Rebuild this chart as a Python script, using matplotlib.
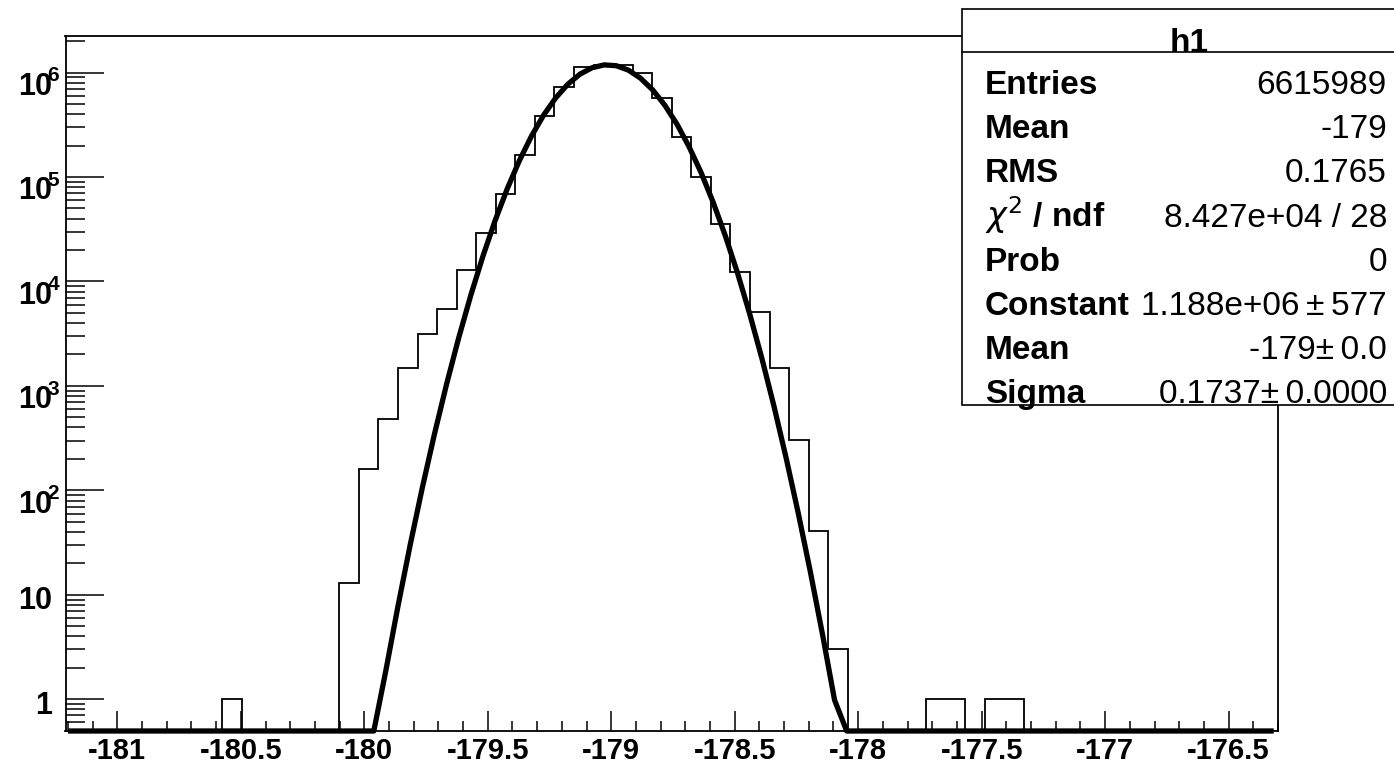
import numpy as np
import matplotlib
matplotlib.use("Agg")
import matplotlib.pyplot as plt
from matplotlib.patches import Rectangle
from matplotlib.ticker import MultipleLocator, LogLocator, NullFormatter, FuncFormatter

plt.rcParams['font.family'] = ['Liberation Sans', 'DejaVu Sans']
plt.rcParams['axes.unicode_minus'] = False

# histogram h1, 62 equal bins
x_lo, x_hi = -181.21, -176.30
counts = [0, 0, 0, 0, 0, 0, 0, 0, 1, 0,
          0, 0, 0, 0, 13, 162, 481, 1500, 3113, 5404,
          12850, 28900, 68300, 162500, 383700, 732000, 1139000, 1190000, 1170000, 990000,
          565000, 240000, 99300, 35500, 12300, 5060, 1470, 303, 41, 3,
          0, 0, 0, 0, 1, 1, 0, 1, 1, 0,
          0, 0, 0, 0, 0, 0, 0, 0, 0, 0,
          0, 0]

# gaus fit (drawn like a TF1 with 100 sample points)
fit_const = 1.188e6
fit_mean = -179.015
fit_sigma = 0.1737
fit_x0, fit_dx, fit_npx = -181.189, 0.0491, 100

stat_names = ["Entries", "Mean", "RMS", r"$\chi^{2}$ / ndf", "Prob",
              "Constant", "Mean", "Sigma"]
stat_values = ["6615989", "-179", "0.1765", "8.427e+04 / 28", "0",
               "1.188e+06\u2009\u00b1\u2009577", "-179\u00b1\u20090.0",
               "0.1737\u00b1\u20090.0000"]

y_lo, y_hi = 0.497, 2.24e6
W, H = 1394, 765


def fx(px):
    return px / W


def fy(py):
    return 1 - py / H


fig = plt.figure(figsize=(W / 100, H / 100), dpi=100)
ax = fig.add_axes([fx(65.5), fy(731), (1278 - 65.5) / W, (731 - 36) / H])

edges = np.linspace(x_lo, x_hi, len(counts) + 1)
vals = np.array(counts, dtype=float)
vals[vals <= 0] = y_lo
ax.stairs(vals, edges, color='black', lw=1.3, baseline=None)

xf = fit_x0 + fit_dx * np.arange(fit_npx)
yf = fit_const * np.exp(-0.5 * ((xf - fit_mean) / fit_sigma) ** 2)
yf = np.maximum(yf, y_lo)
ax.plot(xf, yf, color='black', lw=3.8, clip_on=False, zorder=3)

ax.set_yscale('log')
ax.set_xlim(x_lo, x_hi)
ax.set_ylim(y_lo, y_hi)

for s in ax.spines.values():
    s.set_linewidth(1.3)

ax.xaxis.set_major_locator(MultipleLocator(0.5))
ax.xaxis.set_minor_locator(MultipleLocator(0.1))
ax.xaxis.set_major_formatter(FuncFormatter(lambda v, p: '%g' % v))
ax.tick_params(axis='x', which='major', direction='in', length=14.5, width=1.1,
               pad=4.5, labelsize=21)
ax.tick_params(axis='x', which='minor', direction='in', length=7.2, width=1.1)
for lab in ax.get_xticklabels():
    lab.set_fontweight('bold')

ax.yaxis.set_major_locator(LogLocator(base=10, numticks=20))
ax.yaxis.set_minor_locator(LogLocator(base=10, subs=np.arange(2, 10), numticks=20))
ax.yaxis.set_major_formatter(NullFormatter())
ax.yaxis.set_minor_formatter(NullFormatter())
ax.tick_params(axis='y', which='major', direction='in', length=27, width=1.1)
ax.tick_params(axis='y', which='minor', direction='in', length=13.5, width=1.1)

# y labels, ROOT style with the exponent pressed onto the "10"
ytr = ax.get_yaxis_transform()
for k in range(0, 7):
    if k == 0:
        ax.annotate("1", xy=(0, 1), xycoords=ytr, xytext=(-9.7, -10.6),
                    textcoords='offset points', ha='right', va='baseline',
                    fontsize=22, fontweight='bold', annotation_clip=False)
    elif k == 1:
        ax.annotate("10", xy=(0, 10), xycoords=ytr, xytext=(-9.7, -9.9),
                    textcoords='offset points', ha='right', va='baseline',
                    fontsize=22, fontweight='bold', annotation_clip=False)
    else:
        ax.annotate("10", xy=(0, 10 ** k), xycoords=ytr, xytext=(-9.7, -16.1),
                    textcoords='offset points', ha='right', va='baseline',
                    fontsize=22, fontweight='bold', annotation_clip=False)
        ax.annotate(str(k), xy=(0, 10 ** k), xycoords=ytr, xytext=(-13.0, -6.3),
                    textcoords='offset points', ha='left', va='baseline',
                    fontsize=15, fontweight='bold', annotation_clip=False)

# stats box
box_l, box_t, box_b = 961.7, 9.3, 405
fig.add_artist(Rectangle((fx(box_l), fy(box_b)), fx(W + 20 - box_l), (box_b - box_t) / H,
                         transform=fig.transFigure, facecolor='white',
                         edgecolor='black', lw=1.2, clip_on=False, zorder=5))
fig.add_artist(plt.Line2D([fx(box_l), 1.0], [fy(51.7), fy(51.7)],
                          transform=fig.transFigure, color='black', lw=1.2, zorder=6))
fig.text(fx(1189), fy(51.5), "h1", ha='center', va='baseline', fontsize=24,
         fontweight='bold', zorder=7)
for i, (name, val) in enumerate(zip(stat_names, stat_values)):
    yb = 94 + 44.2 * i
    fig.text(fx(985), fy(yb), name, ha='left', va='baseline', fontsize=24,
             fontweight='bold', zorder=7)
    fig.text(fx(1387), fy(yb), val, ha='right', va='baseline', fontsize=24,
             zorder=7)

fig.savefig('out.png', dpi=100)
